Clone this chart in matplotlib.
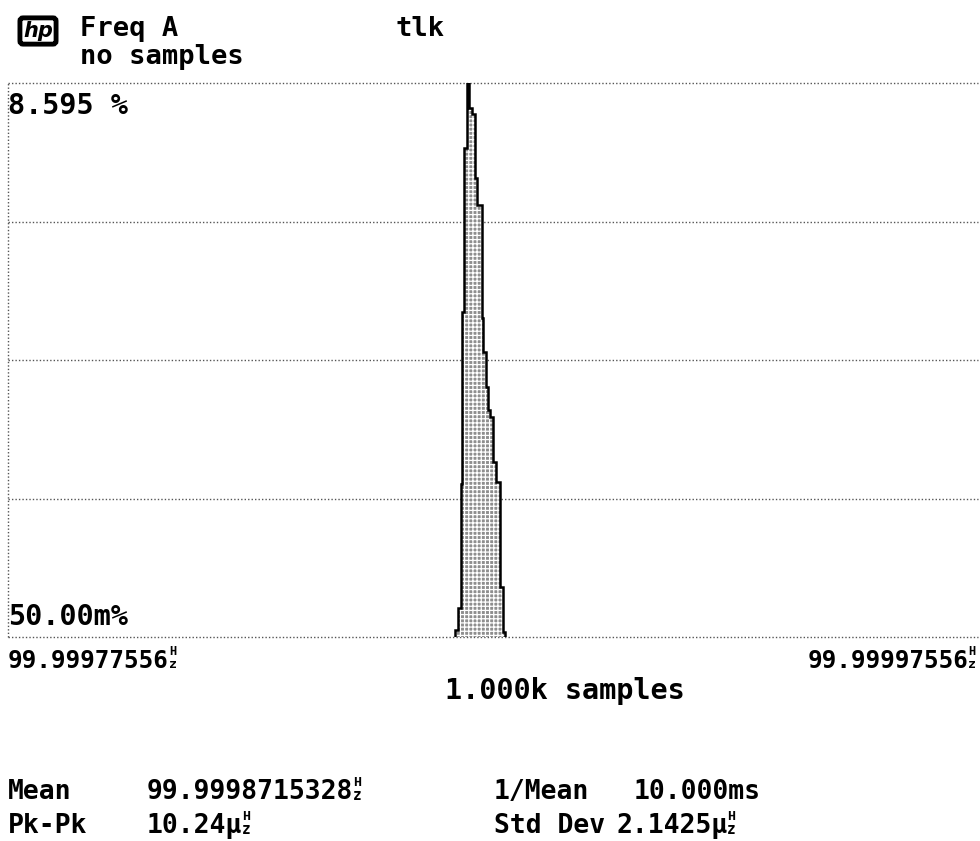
import matplotlib
matplotlib.use("Agg")
import matplotlib.pyplot as plt

# histogram: bin edges are offsets (uHz) above the left
# axis value 99.99977556 Hz, heights are percent of 1000 samples
bin_edges_uhz = [92.16, 92.78, 93.40, 93.71, 94.12, 94.54, 95.05, 95.67, 96.29,
                 96.70, 97.73, 98.04, 98.56, 98.97, 99.38, 100.00, 100.62,
                 101.44, 101.96, 102.47]
bin_pct = [0.16, 0.50, 2.41, 5.06, 7.59, 8.595, 8.21, 8.12, 7.13, 6.71, 4.97,
           4.45, 3.91, 3.55, 3.44, 2.75, 2.44, 0.82, 0.13]

x_span_uhz = 200.0
y_min_pct, y_max_pct = 0.05, 8.595
n_div = 4

left_freq = "99.99977556"
right_freq = "99.99997556"
sample_label = "1.000k samples"
stats_row1 = ["Mean", "99.9998715328", "1/Mean", "10.000ms"]
stats_row2 = ["Pk-Pk", "10.24\u00b5", "Std Dev", "2.1425\u00b5"]

plt.rcParams["font.family"] = ["DejaVu Sans Mono"]
plt.rcParams["font.weight"] = "bold"
plt.rcParams["hatch.linewidth"] = 0.9

W, H = 980, 841
fig = plt.figure(figsize=(W / 100, H / 100), dpi=100)
ax = fig.add_axes([8 / W, 1 - 637 / H, 970 / W, (637 - 83) / H])

ax.stairs(bin_pct, bin_edges_uhz, baseline=y_min_pct, fill=True,
          facecolor="#8e8e8e", edgecolor="white", hatch="++++", linewidth=0)
ax.stairs(bin_pct, bin_edges_uhz, baseline=y_min_pct, fill=False,
          color="black", linewidth=1.8)

ax.set_xlim(0, x_span_uhz)
ax.set_ylim(y_min_pct, y_max_pct)
for k in range(n_div + 1):
    yv = y_min_pct + k * (y_max_pct - y_min_pct) / n_div
    ax.axhline(yv, color="#555555", linestyle=(0, (1, 1.5)), linewidth=1.0,
               clip_on=False, zorder=0)
ax.axvline(0, color="#555555", linestyle=(0, (1, 1.5)), linewidth=1.0,
           clip_on=False, zorder=0)
for s in ax.spines.values():
    s.set_visible(False)
ax.set_xticks([])
ax.set_yticks([])


def put(px, py, s, ha="left", fs=20.5, hz=False):
    t = fig.text(px / W, 1 - py / H, s, fontsize=fs, ha=ha, va="center",
                 fontweight="bold")
    if hz:
        # stacked H over z unit, as the instrument draws it
        ax.annotate("H", xy=(1, 0.62), xycoords=t, fontsize=fs * 0.5,
                    ha="left", va="bottom", fontweight="bold",
                    annotation_clip=False)
        ax.annotate("z", xy=(1, 0.08), xycoords=t, fontsize=fs * 0.55,
                    ha="left", va="bottom", fontweight="bold",
                    annotation_clip=False)
    return t


# header
fig.text(38 / W, 1 - 31 / H, "hp", fontsize=15, style="italic",
         fontweight="bold", ha="center", va="center", color="black",
         family="DejaVu Sans",
         bbox=dict(boxstyle="round,pad=0.15", fc="white", ec="black", lw=3.5))
put(80, 29, "Freq A", fs=19.5)
put(395, 29, "tlk", fs=19.5)
put(80, 57, "no samples", fs=19.5)

# axis labels
put(8, 106, "8.595 %")
put(8, 617, "50.00m%")
put(8, 661, left_freq, fs=17.5, hz=True)
put(968, 661, right_freq, ha="right", fs=17.5, hz=True)
put(565, 691, sample_label, ha="center")

# stats
sfs = 19
put(8, 792, stats_row1[0], fs=sfs)
put(147, 792, stats_row1[1], fs=sfs, hz=True)
put(494, 792, stats_row1[2], fs=sfs)
put(634, 792, stats_row1[3], fs=sfs)
put(8, 826, stats_row2[0], fs=sfs)
put(147, 826, stats_row2[1], fs=sfs, hz=True)
put(494, 826, stats_row2[2], fs=sfs)
put(616, 826, stats_row2[3], fs=sfs, hz=True)

fig.savefig("out.png", dpi=100, facecolor="white")
